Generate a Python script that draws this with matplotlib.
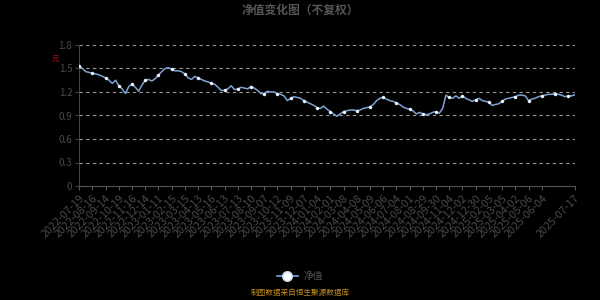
import numpy as np
import matplotlib
matplotlib.use("Agg")
import matplotlib.pyplot as plt
from matplotlib.lines import Line2D

plt.rcParams['font.family'] = ['Noto Sans CJK SC', 'DejaVu Sans']

# 净值, 每5个交易日取一个点
nav = [1.53, 1.50, 1.46, 1.45, 1.44, 1.43, 1.42, 1.40, 1.38, 1.35,
       1.31, 1.35, 1.28, 1.24, 1.18, 1.27, 1.30, 1.26, 1.21, 1.29,
       1.35, 1.36, 1.34, 1.37, 1.42, 1.46, 1.50, 1.51, 1.49, 1.47,
       1.47, 1.46, 1.43, 1.38, 1.36, 1.40, 1.38, 1.36, 1.34, 1.33,
       1.31, 1.30, 1.26, 1.22, 1.22, 1.24, 1.28, 1.23, 1.24, 1.26,
       1.25, 1.24, 1.27, 1.25, 1.22, 1.18, 1.18, 1.21, 1.20, 1.20,
       1.18, 1.17, 1.15, 1.09, 1.12, 1.14, 1.13, 1.12, 1.09, 1.07,
       1.05, 1.03, 1.00, 0.99, 1.02, 0.98, 0.95, 0.92, 0.89, 0.92,
       0.95, 0.96, 0.97, 0.97, 0.96, 0.97, 0.99, 1.00, 1.01, 1.04,
       1.09, 1.12, 1.13, 1.11, 1.09, 1.08, 1.06, 1.04, 1.01, 0.99,
       0.98, 0.96, 0.92, 0.94, 0.92, 0.91, 0.92, 0.94, 0.95, 0.93,
       0.99, 1.16, 1.13, 1.12, 1.15, 1.12, 1.15, 1.12, 1.10, 1.08,
       1.10, 1.12, 1.09, 1.08, 1.07, 1.03, 1.04, 1.05, 1.08, 1.11,
       1.12, 1.13, 1.14, 1.16, 1.16, 1.15, 1.09, 1.11, 1.12, 1.14,
       1.15, 1.16, 1.17, 1.17, 1.18, 1.17, 1.16, 1.14, 1.15, 1.15,
       1.165]
step = 5

tick_labels = ['2022-07-19', '2022-08-16', '2022-09-14', '2022-10-19', '2022-11-16',
               '2022-12-14', '2023-01-11', '2023-02-15', '2023-03-15', '2023-04-13',
               '2023-05-16', '2023-06-13', '2023-07-13', '2023-08-10', '2023-09-07',
               '2023-10-12', '2023-11-09', '2023-12-07', '2024-01-04', '2024-02-01',
               '2024-03-08', '2024-04-08', '2024-05-09', '2024-06-06', '2024-07-04',
               '2024-08-01', '2024-08-29', '2024-09-30', '2024-11-04', '2024-12-02',
               '2024-12-30', '2025-02-05', '2025-03-05', '2025-04-02', '2025-05-06',
               '2025-06-04', '2025-07-17']
tick_every = 20

yticks = [0, 0.3, 0.6, 0.9, 1.2, 1.5, 1.8]

x = np.arange(len(nav)) * step
last = x[-1]
tick_pos = list(np.arange(len(tick_labels) - 1) * tick_every) + [last]

fig = plt.figure(figsize=(6, 3), dpi=100, facecolor='black')
ax = fig.add_axes([0.132, 0.38, 0.826, 0.47])
ax.set_facecolor('black')

line_c = '#7ea3d3'
ax.plot(x, nav, color=line_c, lw=1.1, marker='o', markevery=4, markersize=2.2,
        markerfacecolor='white', markeredgecolor='#cfe0f5', markeredgewidth=0.3, zorder=3)

ax.set_xlim(0, last)
ax.set_ylim(0, 1.8)
ax.set_yticks(yticks)
ax.set_yticklabels(['0', '0.3', '0.6', '0.9', '1.2', '1.5', '1.8'])
ax.set_xticks(tick_pos)
ax.set_xticklabels(tick_labels, rotation=45, ha='right', rotation_mode='anchor')

for v in yticks[1:]:
    ax.axhline(v, color='#9a9a9a', lw=0.8, ls=(0, (3, 3)), zorder=1)

for s in ['top', 'right']:
    ax.spines[s].set_visible(False)
ax.spines['left'].set_color('#444444')
ax.spines['bottom'].set_color('#555555')
ax.tick_params(axis='x', colors='#555555', labelcolor='#4a4a4a', labelsize=7.8, length=3, width=0.8, pad=2)
ax.tick_params(axis='y', colors='#444444', labelcolor='#4a4a4a', labelsize=7, length=3, width=0.8, pad=2)

fig.text(0.5, 0.965, '净值变化图（不复权）', ha='center', va='center', fontsize=8.5,
         fontweight='bold', color='#555555')
fig.text(0.092, 0.80, '元', ha='center', va='center', fontsize=5.5, color='#a01010')

handle = Line2D([0], [0], color=line_c, lw=1.2, marker='o', markersize=7,
                markerfacecolor='white', markeredgecolor='#bcd4f2', markeredgewidth=1.0)
leg = fig.legend([handle], ['净值'], loc='center', bbox_to_anchor=(0.5, 0.08),
                 frameon=False, fontsize=7, handlelength=2.2, handletextpad=0.6)
for t in leg.get_texts():
    t.set_color('#555555')

fig.text(0.5, 0.025, '制图数据来自恒生聚源数据库', ha='center', va='center', fontsize=5.5,
         color='#c08a1e')

fig.savefig('out.png', dpi=100, facecolor='black')
